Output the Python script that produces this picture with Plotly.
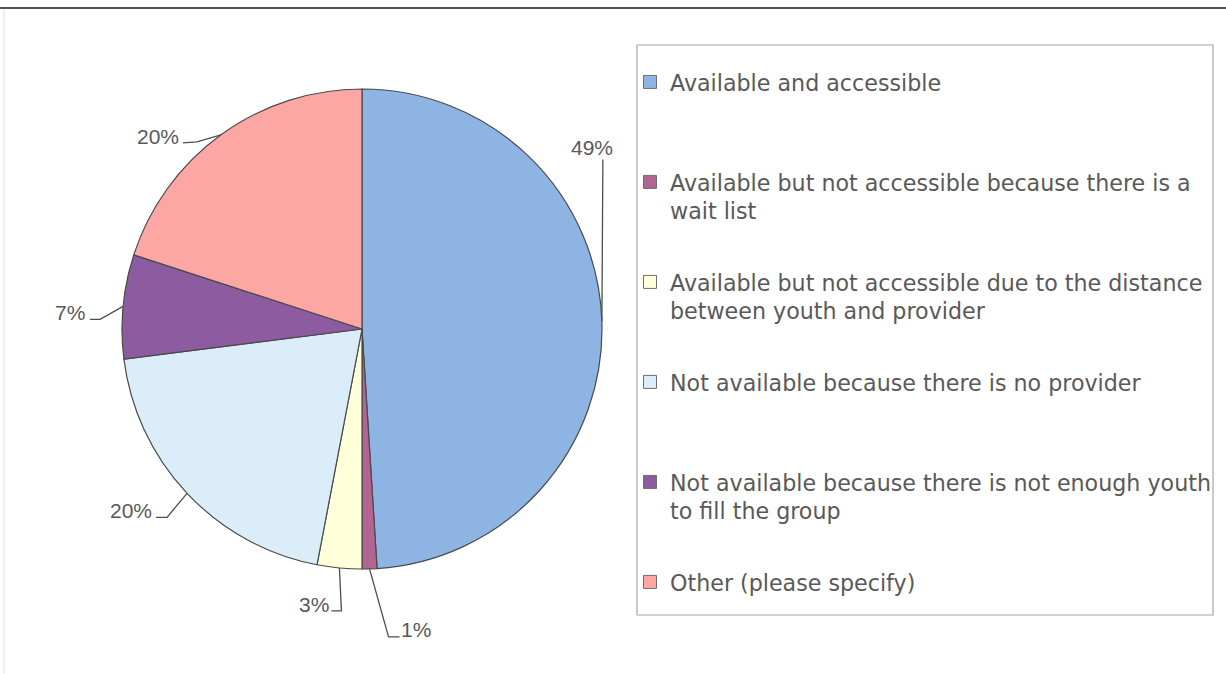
import math
import plotly.graph_objects as go

W, H = 1226, 674

categories = [
    "Available and accessible",
    "Available but not accessible because there is a wait list",
    "Available but not accessible due to the distance between youth and provider",
    "Not available because there is no provider",
    "Not available because there is not enough youth to fill the group",
    "Other (please specify)",
]
legend_text = [
    "Available and accessible",
    "Available but not accessible because there is a<br>wait list",
    "Available but not accessible due to the distance<br>between youth and provider",
    "Not available because there is no provider",
    "Not available because there is not enough youth<br>to fill the group",
    "Other (please specify)",
]
values = [49, 1, 3, 20, 7, 20]
colors = ["#8EB4E3", "#B26492", "#FFFFD9", "#DCEDFA", "#8D5B9F", "#FDA7A4"]

# layout (pixels)
CX, CY, R = 362, 329, 240
# per-label offsets relative to the slice-edge point: elbow, end, text centre
label_offsets = [
    ((1, -162), (1, -162), (-10, -174)),
    ((19, 68), (30, 68), (46, 61)),
    ((2, 43), (-8, 43), (-25, 37)),
    ((-20, 24), (-31, 24), (-56, 17)),
    ((-23, 13), (-33, 13), (-53, 6)),
    ((-24, 7), (-38, 8), (-63, 2)),
]
LEGEND_TOP = [61, 161, 261, 361, 461, 561]
TXT = "#595959"


def px(x):
    return x / W


def py(y):
    return 1 - y / H


fig = go.Figure()
fig.add_trace(go.Pie(
    labels=categories, values=values, sort=False, direction="clockwise",
    rotation=0, marker=dict(colors=colors, line=dict(color="#4A4A4A", width=1.2)),
    textinfo="none", hoverinfo="label+percent", showlegend=False,
    domain=dict(x=[px(CX - R), px(CX + R)], y=[py(CY + R), py(CY - R)]),
))

# legend entries (one legend box per item so spacing can match)
legend_layout = {}
for i, (txt, col) in enumerate(zip(legend_text, colors)):
    name = "legend" if i == 0 else f"legend{i+1}"
    fig.add_trace(go.Scatter(
        x=[None], y=[None], mode="markers", name=txt, legend=name,
        marker=dict(symbol="square", size=13, color=col,
                    line=dict(color="#6F6F6F", width=1)),
        showlegend=True, hoverinfo="skip",
    ))
    legend_layout[name] = dict(
        x=px(630), y=py(LEGEND_TOP[i]), xanchor="left", yanchor="top",
        bgcolor="rgba(0,0,0,0)", borderwidth=0, valign="top",
        font=dict(family="DejaVu Sans", size=22.2, color=TXT),
        itemclick=False, itemdoubleclick=False,
    )

shapes = []
annotations = []
total = sum(values)
cum = 0
for i, v in enumerate(values):
    mid = (cum + v / 2) / total * 2 * math.pi
    cum += v
    ex, ey = CX + R * math.sin(mid), CY - R * math.cos(mid)
    (e1x, e1y), (e2x, e2y), (tx, ty) = label_offsets[i]
    path = (f"M {px(ex)} {py(ey)} L {px(ex + e1x)} {py(ey + e1y)} "
            f"L {px(ex + e2x)} {py(ey + e2y)}")
    shapes.append(dict(type="path", path=path, xref="paper", yref="paper",
                       line=dict(color="#4D4D4D", width=1.3)))
    annotations.append(dict(
        x=px(ex + tx), y=py(ey + ty), xref="paper", yref="paper",
        text=f"{round(v / total * 100)}%", showarrow=False,
        xanchor="center", yanchor="middle",
        font=dict(family="Liberation Sans, Arial", size=21, color=TXT),
    ))

# frame elements
shapes.append(dict(type="rect", xref="paper", yref="paper",
                   x0=px(637), x1=px(1213), y0=py(615), y1=py(45),
                   line=dict(color="#A6A6A6", width=1.2), fillcolor="rgba(0,0,0,0)",
                   layer="below"))
shapes.append(dict(type="line", xref="paper", yref="paper",
                   x0=0, x1=1, y0=py(8), y1=py(8),
                   line=dict(color="#555555", width=2)))
shapes.append(dict(type="line", xref="paper", yref="paper",
                   x0=px(4), x1=px(4), y0=0, y1=py(9),
                   line=dict(color="#E2E2E2", width=1)))

fig.update_layout(
    width=W, height=H, margin=dict(l=0, r=0, t=0, b=0),
    paper_bgcolor="white", plot_bgcolor="white",
    xaxis=dict(visible=False), yaxis=dict(visible=False),
    shapes=shapes, annotations=annotations,
    **legend_layout,
)

fig.write_html("out.html",
               config={"displayModeBar": False},
               post_script="document.body.style.margin='0';"
                           "document.body.style.overflow='hidden';")
